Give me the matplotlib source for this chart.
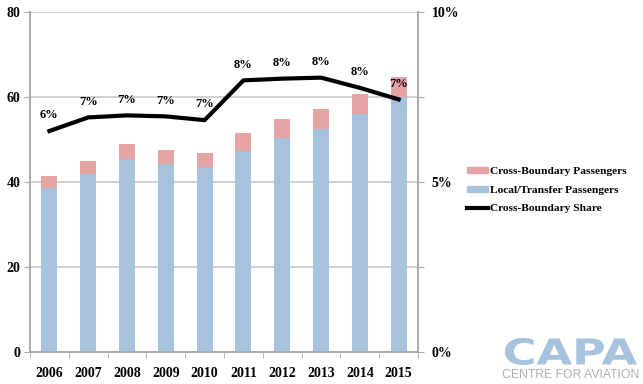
import numpy as np
import matplotlib.pyplot as plt
from matplotlib.patches import Patch, PathPatch
from matplotlib.lines import Line2D
from matplotlib.textpath import TextPath
from matplotlib.font_manager import FontProperties
import matplotlib.transforms as mtransforms

years = ['2006', '2007', '2008', '2009', '2010', '2011', '2012', '2013', '2014', '2015']
local_pax = [38.7, 42.0, 45.3, 44.3, 43.5, 47.3, 50.4, 52.5, 56.1, 59.9]
cross_pax = [2.7, 2.9, 3.6, 3.2, 3.3, 4.2, 4.4, 4.7, 4.6, 4.8]
cross_share = [6.5, 6.9, 6.96, 6.93, 6.82, 7.99, 8.04, 8.07, 7.77, 7.43]
share_labels = ['6%', '7%', '7%', '7%', '7%', '8%', '8%', '8%', '8%', '7%']

pink = '#E5A5A5'
blue = '#A6C2DD'
axis_col = '#AAAAAA'
serif = 'Liberation Serif'

fig = plt.figure(figsize=(6.43, 3.84), dpi=100)
ax = fig.add_axes([0.0467, 0.0833, 0.6034, 0.8854])

x = np.arange(len(years))
ax.bar(x, local_pax, width=0.41, color=blue, zorder=2)
ax.bar(x, cross_pax, width=0.41, bottom=local_pax, color=pink, zorder=2)

ax.set_xlim(-0.5, 9.5)
ax.set_ylim(0, 80)
ax.set_yticks([0, 20, 40, 60, 80])
ax.grid(axis='y', color='#C8C8C8', linewidth=1.2, zorder=0)
ax.set_xticks(x)
ax.set_xticklabels(years)
ax.set_xticks(np.arange(-0.5, 10, 1), minor=True)
ax.tick_params(axis='x', which='major', length=0, pad=11)
ax.tick_params(axis='x', which='minor', length=4, color=axis_col, direction='out')
ax.tick_params(axis='y', length=4, color=axis_col, direction='out', pad=3)
for lbl in ax.get_xticklabels() + ax.get_yticklabels():
    lbl.set_fontfamily(serif)
    lbl.set_fontweight('bold')
    lbl.set_fontsize(10)
ax.spines['top'].set_visible(False)
for side in ['left', 'bottom', 'right']:
    ax.spines[side].set_color(axis_col)
    ax.spines[side].set_linewidth(1.2)

ax2 = ax.twinx()
ax2.plot(x, cross_share, color='black', linewidth=3, zorder=5)
ax2.set_ylim(0, 10)
ax2.set_yticks([0, 2.5, 5, 7.5, 10])
ax2.set_yticklabels(['0%', '', '5%', '', '10%'])
ax2.tick_params(axis='y', length=4, color=axis_col, direction='out', pad=6)
for lbl in ax2.get_yticklabels():
    lbl.set_fontfamily(serif)
    lbl.set_fontweight('bold')
    lbl.set_fontsize(10)
ax2.spines['top'].set_visible(False)
for side in ['left', 'bottom', 'right']:
    ax2.spines[side].set_color(axis_col)
    ax2.spines[side].set_linewidth(1.2)

for xi, yi, lab in zip(x, cross_share, share_labels):
    ax2.annotate(lab, (xi, yi), xytext=(0, 7), textcoords='offset points',
                 ha='center', va='bottom', fontsize=9, fontweight='bold',
                 fontfamily=serif)

handles = [Patch(color=pink, label='Cross-Boundary Passengers'),
           Patch(color=blue, label='Local/Transfer Passengers'),
           Line2D([0], [0], color='black', linewidth=3, label='Cross-Boundary Share')]
fig.legend(handles=handles, loc='center left', bbox_to_anchor=(0.71, 0.505),
           frameon=False, handlelength=1.9, handleheight=0.45, handletextpad=0.1,
           labelspacing=0.85, prop={'family': serif, 'weight': 'bold', 'size': 8.2})

# CAPA logo: wide heavy lettering, stretched to fit its box in pixels
logo = TextPath((0, 0), 'CAPA', size=1,
                prop=FontProperties(family='DejaVu Sans', weight='bold'))
ext = logo.get_extents()
sx = 132 / ext.width
sy = 27 / ext.height
tr = (mtransforms.Affine2D().translate(-ext.x0, -ext.y0).scale(sx, sy)
      .translate(505, 384 - 365))
fig.add_artist(PathPatch(tr.transform_path(logo), color=blue, lw=0,
                         transform=mtransforms.IdentityTransform()))
fig.text(0.887, 0.008, 'CENTRE FOR AVIATION', color='#B0B0B0', fontsize=8.8,
         fontfamily='Liberation Sans', ha='center', va='bottom')

fig.savefig('out.png', dpi=100)
